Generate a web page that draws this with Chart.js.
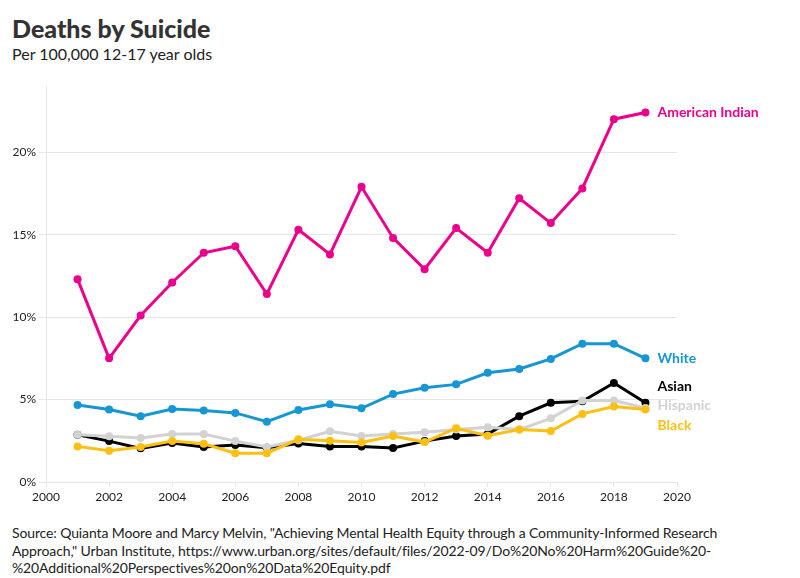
<!DOCTYPE html>
<html>
<head>
<meta charset="utf-8">
<script src="https://cdn.jsdelivr.net/npm/chart.js@4/dist/chart.umd.min.js"></script>
<style>
  html, body { margin: 0; padding: 0; background: #fff; }
  body { width: 800px; height: 578px; position: relative; overflow: hidden; font-family: Lato, sans-serif; color: #333; }
  #title { position: absolute; left: 12px; top: 13px; font-size: 25px; font-weight: 900; color: #333; }
  #subtitle { position: absolute; left: 12px; top: 44px; font-size: 16px; color: #222; }
  #chart-box { position: absolute; left: 0; top: 76px; width: 800px; height: 431px; }
  #source { position: absolute; left: 12px; top: 524px; width: 720px; font-size: 14px; line-height: 17.5px; letter-spacing: -0.12px; color: #222; }
</style>
</head>
<body>
<div id="title">Deaths by Suicide</div>
<div id="subtitle">Per 100,000 12-17 year olds</div>
<div id="chart-box"><canvas id="c"></canvas></div>
<div id="source">Source: Quianta Moore and Marcy Melvin, "Achieving Mental Health Equity through a Community-Informed Research Approach," Urban Institute, https://www.urban.org/sites/default/files/2022-09/Do%20No%20Harm%20Guide%20-%20Additional%20Perspectives%20on%20Data%20Equity.pdf</div>
<script>
// years on the x axis
const years = [2001, 2002, 2003, 2004, 2005, 2006, 2007, 2008, 2009, 2010,
               2011, 2012, 2013, 2014, 2015, 2016, 2017, 2018, 2019]

// deaths per 100,000
const americanIndian = [12.3, 7.5, 10.1, 12.1, 13.9, 14.3, 11.4, 15.3, 13.8, 17.9,
                        14.8, 12.9, 15.4, 13.9, 17.2, 15.7, 17.8, 22.0, 22.4]
const white    = [4.67, 4.39, 3.99, 4.43, 4.33, 4.19, 3.66, 4.37, 4.72, 4.47,
                  5.33, 5.71, 5.92, 6.62, 6.85, 7.46, 8.39, 8.39, 7.5]
const asian    = [2.87, 2.48, 2.04, 2.36, 2.12, 2.24, 2.08, 2.34, 2.16, 2.16,
                  2.06, 2.48, 2.79, 2.91, 3.99, 4.8, 4.9, 6.0, 4.8]
const hispanic = [2.87, 2.77, 2.67, 2.91, 2.91, 2.48, 2.12, 2.53, 3.07, 2.79,
                  2.91, 3.01, 3.18, 3.32, 3.18, 3.86, 4.94, 4.94, 4.49]
const black    = [2.16, 1.9, 2.12, 2.48, 2.32, 1.75, 1.75, 2.59, 2.5, 2.4,
                  2.79, 2.42, 3.26, 2.81, 3.18, 3.09, 4.13, 4.58, 4.39]

const yTicks = [0, 5, 10, 15, 20]

const COLORS = {
  americanIndian: '#ec008b',
  white: '#1696d2',
  asian: '#000000',
  hispanic: '#d2d2d2',
  black: '#fdbf11',
  grid: '#e6e6e6',
  text: '#333333',
}

// vertical nudge of the end labels so they don't collide
const labelNudge = { 'American Indian': 0, 'White': 0, 'Asian': -16, 'Hispanic': -2, 'Black': 16 }

function series(label, values, color, order) {
  return {
    label,
    data: years.map((yr, i) => ({ x: yr, y: values[i] })),
    borderColor: color,
    backgroundColor: color,
    borderWidth: 3,
    pointRadius: 4,
    pointHoverRadius: 4,
    pointBorderWidth: 0,
    order,
  }
}

const endLabels = {
  id: 'endLabels',
  afterDatasetsDraw(chart) {
    const ctx = chart.ctx
    ctx.save()
    ctx.font = "bold 14px Lato, sans-serif"
    ctx.textBaseline = 'middle'
    ctx.textAlign = 'left'
    chart.data.datasets.forEach((ds, i) => {
      const pts = chart.getDatasetMeta(i).data
      const last = pts[pts.length - 1]
      ctx.fillStyle = ds.borderColor
      ctx.fillText(ds.label, last.x + 12, last.y + (labelNudge[ds.label] || 0))
    })
    ctx.restore()
  }
}

Chart.defaults.font.family = 'Lato, sans-serif'
Chart.defaults.font.size = 12
Chart.defaults.color = COLORS.text

new Chart(document.getElementById('c'), {
  type: 'line',
  data: {
    datasets: [
      series('American Indian', americanIndian, COLORS.americanIndian, 1),
      series('White', white, COLORS.white, 2),
      series('Asian', asian, COLORS.asian, 5),
      series('Hispanic', hispanic, COLORS.hispanic, 4),
      series('Black', black, COLORS.black, 3),
    ],
  },
  options: {
    responsive: true,
    maintainAspectRatio: false,
    animation: false,
    layout: { padding: { top: 5, right: 123, left: 0, bottom: 0 } },
    plugins: { legend: { display: false }, tooltip: { enabled: false } },
    scales: {
      x: {
        type: 'linear',
        min: 2000,
        max: 2020,
        afterFit: s => { s.height = 25 },
        grid: { drawOnChartArea: false, drawTicks: true, tickLength: 5, color: COLORS.grid },
        border: { color: COLORS.grid },
        ticks: { stepSize: 2, callback: v => String(v), padding: 3, maxRotation: 0, color: '#222' },
      },
      y: {
        min: 0,
        max: 24,
        afterFit: s => { s.width = 46 },
        afterBuildTicks: s => { s.ticks = yTicks.map(v => ({ value: v })) },
        grid: { color: COLORS.grid, tickLength: 7 },
        border: { color: COLORS.grid },
        ticks: { callback: v => v + '%', padding: 3, color: '#222' },
      },
    },
  },
  plugins: [endLabels],
})
</script>
</body>
</html>
